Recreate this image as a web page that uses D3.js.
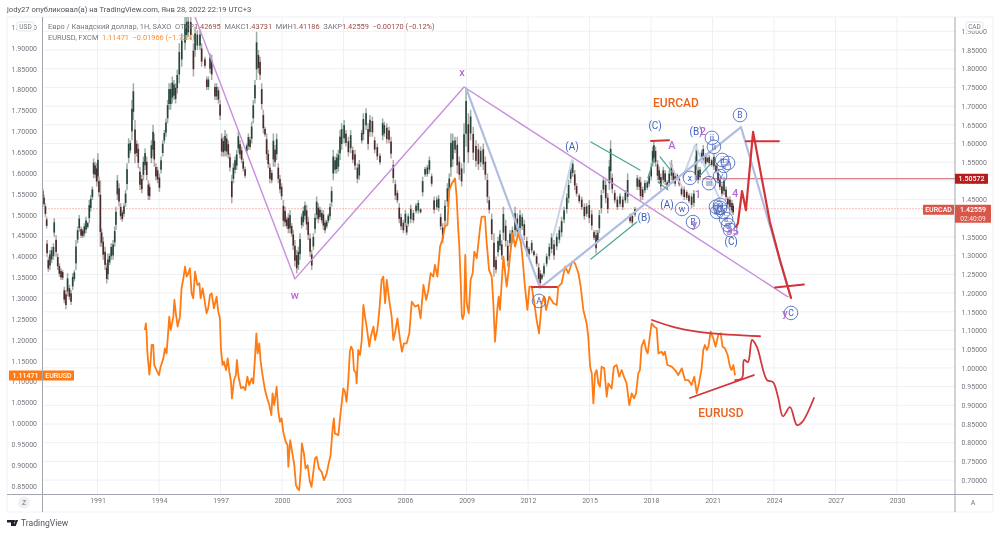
<!DOCTYPE html>
<html><head><meta charset="utf-8">
<script src="https://cdn.jsdelivr.net/npm/d3@7"></script>
<style>html,body{margin:0;padding:0;background:#fff;overflow:hidden}svg{display:block;filter:blur(0.3px)}text{font-family:Roboto,"Liberation Sans",sans-serif}</style>
</head><body><svg id="c" width="1000" height="534"></svg>
<script>
// [year, high, low]
const cadBars=[[1988.33,1.480,1.449],[1988.39,1.462,1.431],[1988.46,1.440,1.404],[1988.52,1.404,1.373],[1988.54,1.342,1.297],[1988.60,1.297,1.257],[1988.68,1.315,1.262],[1988.76,1.324,1.280],[1988.85,1.333,1.289],[1988.89,1.400,1.351],[1988.98,1.355,1.297],[1989.06,1.306,1.262],[1989.14,1.280,1.244],[1989.22,1.266,1.235],[1989.30,1.262,1.235],[1989.38,1.217,1.173],[1989.46,1.208,1.157],[1989.54,1.253,1.191],[1989.63,1.222,1.182],[1989.71,1.208,1.168],[1989.79,1.253,1.208],[1989.87,1.262,1.231],[1989.95,1.342,1.262],[1990.03,1.378,1.333],[1990.11,1.409,1.364],[1990.20,1.378,1.347],[1990.28,1.373,1.347],[1990.36,1.387,1.351],[1990.44,1.404,1.360],[1990.52,1.391,1.373],[1990.60,1.449,1.387],[1990.67,1.462,1.418],[1990.75,1.485,1.449],[1990.81,1.560,1.507],[1990.88,1.551,1.507],[1990.96,1.547,1.485],[1991.02,1.574,1.494],[1991.07,1.511,1.458],[1991.14,1.502,1.324],[1991.20,1.373,1.324],[1991.28,1.351,1.289],[1991.37,1.324,1.262],[1991.45,1.280,1.226],[1991.51,1.306,1.235],[1991.59,1.306,1.275],[1991.67,1.333,1.289],[1991.76,1.342,1.289],[1991.84,1.378,1.324],[1991.90,1.431,1.369],[1991.97,1.516,1.449],[1992.05,1.494,1.431],[1992.13,1.440,1.396],[1992.21,1.422,1.391],[1992.29,1.440,1.404],[1992.37,1.476,1.431],[1992.44,1.547,1.476],[1992.52,1.614,1.547],[1992.60,1.609,1.574],[1992.68,1.716,1.609],[1992.75,1.761,1.663],[1992.83,1.663,1.547],[1992.91,1.609,1.565],[1992.99,1.600,1.534],[1993.07,1.538,1.476],[1993.16,1.516,1.467],[1993.24,1.565,1.502],[1993.32,1.587,1.529],[1993.40,1.565,1.502],[1993.48,1.502,1.449],[1993.54,1.494,1.449],[1993.63,1.609,1.547],[1993.71,1.650,1.565],[1993.77,1.627,1.538],[1993.85,1.547,1.502],[1993.93,1.538,1.494],[1994.02,1.520,1.471],[1994.10,1.565,1.520],[1994.18,1.609,1.565],[1994.26,1.636,1.600],[1994.34,1.667,1.618],[1994.42,1.716,1.654],[1994.49,1.761,1.690],[1994.57,1.761,1.690],[1994.65,1.779,1.707],[1994.73,1.770,1.716],[1994.81,1.761,1.707],[1994.89,1.797,1.734],[1994.99,1.868,1.761],[1995.11,1.895,1.805],[1995.27,1.939,1.850],[1995.35,1.938,1.877],[1995.43,1.938,1.886],[1995.55,1.938,1.877],[1995.68,1.868,1.779],[1995.76,1.912,1.832],[1995.87,1.903,1.850],[1996.00,1.903,1.850],[1996.08,1.868,1.805],[1996.24,1.832,1.801],[1996.33,1.779,1.743],[1996.41,1.779,1.743],[1996.49,1.841,1.788],[1996.57,1.837,1.770],[1996.73,1.761,1.716],[1996.81,1.761,1.716],[1996.90,1.752,1.707],[1996.98,1.716,1.663],[1997.06,1.627,1.565],[1997.14,1.618,1.565],[1997.22,1.636,1.565],[1997.30,1.627,1.565],[1997.38,1.609,1.560],[1997.46,1.574,1.525],[1997.55,1.516,1.440],[1997.63,1.547,1.494],[1997.71,1.565,1.520],[1997.79,1.583,1.529],[1997.87,1.632,1.574],[1997.95,1.609,1.560],[1998.03,1.592,1.547],[1998.11,1.560,1.525],[1998.20,1.538,1.507],[1998.28,1.600,1.574],[1998.36,1.627,1.583],[1998.44,1.618,1.583],[1998.52,1.658,1.600],[1998.60,1.716,1.654],[1998.68,1.770,1.707],[1998.76,1.899,1.770],[1998.85,1.850,1.788],[1998.93,1.832,1.770],[1999.01,1.761,1.690],[1999.09,1.690,1.627],[1999.17,1.645,1.618],[1999.25,1.627,1.556],[1999.33,1.583,1.534],[1999.41,1.547,1.494],[1999.50,1.529,1.494],[1999.58,1.627,1.538],[1999.66,1.596,1.538],[1999.74,1.627,1.556],[1999.82,1.547,1.494],[1999.90,1.516,1.467],[1999.98,1.494,1.449],[2000.07,1.449,1.378],[2000.15,1.431,1.378],[2000.23,1.404,1.373],[2000.31,1.413,1.360],[2000.39,1.422,1.360],[2000.47,1.387,1.351],[2000.55,1.369,1.315],[2000.63,1.342,1.271],[2000.72,1.315,1.253],[2000.80,1.324,1.262],[2000.88,1.360,1.289],[2000.96,1.413,1.373],[2001.04,1.431,1.378],[2001.12,1.445,1.396],[2001.20,1.436,1.369],[2001.28,1.404,1.342],[2001.37,1.360,1.297],[2001.45,1.315,1.262],[2001.53,1.360,1.315],[2001.61,1.413,1.360],[2001.69,1.458,1.396],[2001.77,1.440,1.387],[2001.85,1.431,1.396],[2001.94,1.422,1.387],[2002.02,1.422,1.369],[2002.10,1.396,1.360],[2002.18,1.396,1.373],[2002.26,1.413,1.387],[2002.34,1.440,1.396],[2002.42,1.485,1.431],[2002.50,1.583,1.502],[2002.59,1.565,1.520],[2002.67,1.574,1.520],[2002.75,1.583,1.525],[2002.83,1.636,1.556],[2002.91,1.654,1.583],[2003.03,1.663,1.600],[2003.12,1.636,1.592],[2003.24,1.618,1.565],[2003.35,1.636,1.574],[2003.45,1.592,1.547],[2003.56,1.583,1.529],[2003.68,1.547,1.494],[2003.77,1.556,1.503],[2003.89,1.636,1.600],[2003.97,1.681,1.609],[2004.10,1.694,1.636],[2004.20,1.654,1.583],[2004.29,1.676,1.618],[2004.41,1.672,1.618],[2004.52,1.618,1.574],[2004.65,1.600,1.556],[2004.78,1.574,1.543],[2004.91,1.667,1.609],[2004.99,1.658,1.618],[2005.11,1.654,1.600],[2005.22,1.645,1.600],[2005.32,1.618,1.560],[2005.43,1.556,1.494],[2005.53,1.503,1.449],[2005.63,1.476,1.440],[2005.72,1.440,1.387],[2005.81,1.413,1.369],[2005.92,1.396,1.360],[2006.02,1.422,1.378],[2006.08,1.387,1.355],[2006.16,1.413,1.378],[2006.28,1.436,1.387],[2006.41,1.422,1.387],[2006.54,1.440,1.413],[2006.65,1.449,1.413],[2006.76,1.427,1.413],[2006.86,1.511,1.458],[2006.98,1.538,1.511],[2007.09,1.543,1.511],[2007.19,1.565,1.520],[2007.30,1.520,1.485],[2007.42,1.458,1.413],[2007.55,1.458,1.422],[2007.64,1.462,1.418],[2007.74,1.413,1.369],[2007.84,1.387,1.333],[2007.95,1.449,1.378],[2008.07,1.494,1.431],[2008.16,1.520,1.458],[2008.24,1.627,1.511],[2008.33,1.627,1.538],[2008.44,1.618,1.574],[2008.55,1.618,1.520],[2008.65,1.565,1.503],[2008.76,1.547,1.485],[2008.88,1.654,1.520],[2008.98,1.748,1.592],[2009.09,1.681,1.547],[2009.20,1.690,1.609],[2009.33,1.645,1.556],[2009.46,1.609,1.538],[2009.58,1.600,1.529],[2009.69,1.592,1.538],[2009.82,1.600,1.529],[2009.92,1.565,1.503],[2010.02,1.520,1.440],[2010.11,1.458,1.413],[2010.23,1.413,1.342],[2010.34,1.360,1.244],[2010.44,1.298,1.253],[2010.54,1.351,1.298],[2010.63,1.369,1.315],[2010.72,1.342,1.289],[2010.80,1.431,1.342],[2010.91,1.396,1.324],[2011.01,1.342,1.271],[2011.12,1.369,1.324],[2011.24,1.378,1.333],[2011.37,1.431,1.351],[2011.48,1.413,1.351],[2011.61,1.422,1.360],[2011.72,1.413,1.369],[2011.82,1.396,1.342],[2011.94,1.351,1.298],[2012.05,1.324,1.298],[2012.18,1.342,1.306],[2012.29,1.315,1.298],[2012.42,1.306,1.271],[2012.52,1.280,1.226],[2012.60,1.262,1.217],[2012.68,1.253,1.235],[2012.78,1.280,1.244],[2012.91,1.306,1.271],[2013.04,1.333,1.289],[2013.15,1.360,1.306],[2013.27,1.342,1.289],[2013.40,1.360,1.315],[2013.53,1.378,1.333],[2013.64,1.404,1.351],[2013.76,1.431,1.387],[2013.89,1.467,1.413],[2013.98,1.503,1.440],[2014.08,1.547,1.494],[2014.18,1.556,1.511],[2014.28,1.529,1.476],[2014.37,1.494,1.458],[2014.50,1.467,1.440],[2014.62,1.458,1.422],[2014.75,1.440,1.396],[2014.86,1.440,1.404],[2014.99,1.449,1.387],[2015.11,1.422,1.369],[2015.22,1.369,1.342],[2015.32,1.369,1.306],[2015.40,1.369,1.333],[2015.48,1.422,1.360],[2015.58,1.476,1.413],[2015.68,1.511,1.467],[2015.79,1.503,1.440],[2015.89,1.467,1.413],[2015.97,1.556,1.476],[2016.03,1.609,1.503],[2016.11,1.520,1.467],[2016.23,1.476,1.440],[2016.36,1.458,1.422],[2016.49,1.467,1.431],[2016.62,1.458,1.422],[2016.75,1.476,1.440],[2016.86,1.520,1.440],[2016.98,1.413,1.387],[2017.09,1.413,1.382],[2017.22,1.431,1.404],[2017.33,1.516,1.476],[2017.43,1.511,1.476],[2017.49,1.511,1.445],[2017.59,1.485,1.449],[2017.70,1.502,1.467],[2017.82,1.502,1.476],[2017.91,1.520,1.485],[2018.01,1.547,1.502],[2018.08,1.592,1.538],[2018.14,1.609,1.547],[2018.22,1.592,1.538],[2018.32,1.556,1.502],[2018.40,1.538,1.493],[2018.48,1.520,1.476],[2018.60,1.538,1.493],[2018.69,1.529,1.489],[2018.79,1.502,1.476],[2018.89,1.529,1.485],[2019.00,1.556,1.502],[2019.09,1.529,1.493],[2019.18,1.520,1.485],[2019.28,1.520,1.502],[2019.38,1.511,1.485],[2019.49,1.485,1.458],[2019.62,1.485,1.449],[2019.74,1.476,1.449],[2019.85,1.467,1.440],[2019.98,1.467,1.427],[2020.09,1.476,1.431],[2020.17,1.565,1.502],[2020.22,1.600,1.529],[2020.30,1.538,1.493],[2020.39,1.538,1.502],[2020.47,1.583,1.547],[2020.55,1.596,1.547],[2020.66,1.574,1.538],[2020.75,1.565,1.547],[2020.84,1.569,1.542],[2020.96,1.560,1.538],[2021.07,1.574,1.529],[2021.17,1.547,1.520],[2021.27,1.529,1.493],[2021.36,1.511,1.476],[2021.46,1.493,1.458],[2021.56,1.511,1.462],[2021.66,1.485,1.449],[2021.75,1.458,1.431],[2021.85,1.458,1.422],[2021.95,1.449,1.413],[2022.01,1.440,1.409]];
// [year, close]
const usdLine=[[1993.31,1.224],[1993.36,1.240],[1993.40,1.212],[1993.43,1.172],[1993.48,1.144],[1993.53,1.117],[1993.59,1.148],[1993.64,1.188],[1993.72,1.188],[1993.77,1.140],[1993.88,1.128],[1994.00,1.116],[1994.08,1.136],[1994.21,1.156],[1994.29,1.180],[1994.37,1.168],[1994.45,1.220],[1994.50,1.256],[1994.57,1.224],[1994.70,1.256],[1994.75,1.296],[1994.83,1.260],[1994.91,1.232],[1995.02,1.256],[1995.10,1.324],[1995.19,1.348],[1995.27,1.376],[1995.35,1.352],[1995.43,1.360],[1995.51,1.372],[1995.59,1.312],[1995.67,1.300],[1995.76,1.364],[1995.87,1.332],[1995.97,1.336],[1996.03,1.300],[1996.13,1.324],[1996.21,1.300],[1996.32,1.264],[1996.40,1.276],[1996.49,1.308],[1996.57,1.312],[1996.68,1.276],[1996.81,1.304],[1996.89,1.268],[1996.97,1.252],[1997.02,1.180],[1997.10,1.140],[1997.17,1.148],[1997.27,1.128],[1997.35,1.156],[1997.43,1.124],[1997.51,1.100],[1997.56,1.060],[1997.66,1.104],[1997.75,1.116],[1997.80,1.152],[1997.88,1.112],[1998.00,1.084],[1998.11,1.088],[1998.21,1.080],[1998.31,1.112],[1998.40,1.092],[1998.52,1.108],[1998.60,1.096],[1998.68,1.156],[1998.75,1.216],[1998.81,1.168],[1998.89,1.192],[1998.96,1.148],[1999.05,1.116],[1999.17,1.080],[1999.28,1.060],[1999.38,1.044],[1999.48,1.020],[1999.54,1.072],[1999.62,1.044],[1999.74,1.088],[1999.82,1.028],[1999.90,1.004],[1999.98,1.012],[2000.06,0.980],[2000.18,0.956],[2000.27,0.948],[2000.31,0.896],[2000.40,0.960],[2000.52,0.924],[2000.60,0.900],[2000.68,0.852],[2000.76,0.844],[2000.84,0.840],[2000.91,0.884],[2000.97,0.952],[2001.07,0.928],[2001.15,0.892],[2001.25,0.900],[2001.36,0.860],[2001.44,0.848],[2001.53,0.884],[2001.61,0.916],[2001.69,0.920],[2001.80,0.892],[2001.93,0.884],[2002.05,0.864],[2002.18,0.880],[2002.26,0.900],[2002.37,0.924],[2002.47,0.988],[2002.53,1.012],[2002.58,0.976],[2002.75,0.972],[2002.83,1.012],[2002.99,1.084],[2003.07,1.076],[2003.15,1.052],[2003.23,1.100],[2003.31,1.172],[2003.37,1.184],[2003.45,1.176],[2003.51,1.128],[2003.61,1.120],[2003.64,1.096],[2003.72,1.176],[2003.81,1.164],[2003.89,1.200],[2003.97,1.284],[2004.05,1.256],[2004.13,1.232],[2004.26,1.184],[2004.33,1.208],[2004.46,1.232],[2004.54,1.200],[2004.65,1.224],[2004.75,1.272],[2004.86,1.344],[2004.94,1.352],[2005.03,1.288],[2005.11,1.344],[2005.24,1.292],[2005.35,1.256],[2005.43,1.200],[2005.51,1.216],[2005.63,1.252],[2005.76,1.200],[2005.85,1.172],[2005.95,1.192],[2006.08,1.192],[2006.21,1.216],[2006.33,1.292],[2006.49,1.280],[2006.65,1.284],[2006.76,1.252],[2006.90,1.332],[2007.03,1.296],[2007.14,1.320],[2007.25,1.360],[2007.38,1.352],[2007.46,1.380],[2007.58,1.352],[2007.71,1.424],[2007.82,1.440],[2007.95,1.472],[2008.07,1.476],[2008.16,1.559],[2008.28,1.575],[2008.44,1.587],[2008.52,1.543],[2008.60,1.464],[2008.65,1.424],[2008.72,1.336],[2008.77,1.260],[2008.81,1.250],[2008.88,1.262],[2008.94,1.404],[2009.01,1.288],[2009.11,1.264],[2009.20,1.344],[2009.30,1.360],[2009.38,1.412],[2009.50,1.396],[2009.66,1.468],[2009.74,1.496],[2009.90,1.496],[2009.98,1.436],[2010.10,1.368],[2010.23,1.352],[2010.31,1.288],[2010.39,1.196],[2010.50,1.272],[2010.57,1.304],[2010.63,1.272],[2010.80,1.400],[2010.96,1.328],[2011.04,1.360],[2011.12,1.400],[2011.25,1.456],[2011.37,1.424],[2011.53,1.456],[2011.66,1.432],[2011.74,1.392],[2011.85,1.328],[2011.97,1.272],[2012.07,1.328],[2012.18,1.328],[2012.31,1.288],[2012.42,1.248],[2012.54,1.216],[2012.67,1.288],[2012.78,1.304],[2012.88,1.272],[2013.04,1.304],[2013.24,1.288],[2013.40,1.284],[2013.48,1.328],[2013.64,1.336],[2013.81,1.376],[2013.97,1.360],[2014.16,1.388],[2014.29,1.384],[2014.46,1.360],[2014.57,1.328],[2014.70,1.272],[2014.86,1.240],[2014.94,1.208],[2015.03,1.136],[2015.11,1.120],[2015.19,1.048],[2015.27,1.120],[2015.35,1.128],[2015.43,1.096],[2015.51,1.088],[2015.59,1.136],[2015.72,1.132],[2015.84,1.064],[2015.92,1.096],[2016.08,1.084],[2016.19,1.136],[2016.32,1.140],[2016.45,1.112],[2016.57,1.128],[2016.68,1.112],[2016.81,1.096],[2016.94,1.044],[2017.06,1.072],[2017.17,1.060],[2017.27,1.072],[2017.38,1.120],[2017.46,1.128],[2017.54,1.184],[2017.66,1.200],[2017.76,1.176],[2017.84,1.168],[2017.92,1.200],[2018.03,1.240],[2018.16,1.232],[2018.28,1.228],[2018.36,1.168],[2018.52,1.172],[2018.60,1.164],[2018.68,1.172],[2018.80,1.140],[2019.01,1.136],[2019.17,1.128],[2019.33,1.116],[2019.50,1.132],[2019.66,1.104],[2019.82,1.104],[2019.98,1.092],[2020.11,1.112],[2020.23,1.072],[2020.34,1.096],[2020.47,1.132],[2020.55,1.176],[2020.63,1.188],[2020.72,1.176],[2020.80,1.184],[2020.91,1.220],[2021.04,1.204],[2021.15,1.184],[2021.28,1.212],[2021.40,1.216],[2021.49,1.184],[2021.61,1.180],[2021.74,1.164],[2021.85,1.136],[2021.93,1.128],[2022.02,1.140],[2022.10,1.115]];

const yearTicks=[1991,1994,1997,2000,2003,2006,2009,2012,2015,2018,2021,2024,2027,2030];
const usdTicks=[0.85,0.90,0.95,1.00,1.05,1.10,1.15,1.20,1.25,1.30,1.35,1.40,1.45,1.50,1.55,1.60,1.65,1.70,1.75,1.80,1.85,1.90,1.95];
const cadTicks=[0.70,0.75,0.80,0.85,0.90,0.95,1.00,1.05,1.10,1.15,1.20,1.25,1.30,1.35,1.40,1.45,1.50,1.55,1.60,1.65,1.70,1.75,1.80,1.85,1.90];

// drawings on the CAD scale
const purpleZig=[[1995.76,1.938],[2000.63,1.238],[2008.88,1.751],[2024.68,1.190]];
const blueZig=[[2008.98,1.748],[2012.59,1.214],[2022.39,1.644],[2024.83,1.187]];
const paleBlue=[[[2013.22,1.350],[2014.15,1.556]],[[2019.56,1.510],[2020.15,1.596],[2021.37,1.449]]];
const palePurple=[[[2018.9,1.550],[2019.55,1.480]]];
const tealLines=[[[2015.07,1.291],[2017.31,1.390]],[[2015.07,1.604],[2017.46,1.529]],[[2018.44,1.564],[2019.02,1.524]],[[2018.34,1.497],[2018.83,1.476]],[[2017.85,1.508],[2018.15,1.561]],[[2020.4,1.515],[2020.9,1.545]]];
const redCad=[[[2012.19,1.216],[2013.41,1.216]],[[2018.0,1.607],[2018.88,1.609]],[[2022.63,1.606],[2024.24,1.606]],[[2024.05,1.215],[2025.46,1.223]]];
const redForecast=[[2022.15,1.377],[2022.24,1.387],[2022.44,1.473],[2022.63,1.422],[2022.98,1.631],[2023.8,1.390],[2024.29,1.288],[2024.83,1.187]];
// drawings on the USD scale
const usdTop=[[2018.05,1.248],[2019.27,1.229],[2020.73,1.217],[2023.32,1.209]];
const usdBottom=[[2019.90,1.061],[2023.02,1.116]];
const usdForecast=[[2022.10,1.104],[2022.44,1.109],[2022.54,1.152],[2022.73,1.147],[2022.93,1.200],[2023.17,1.183],[2023.66,1.104],[2023.95,1.099],[2024.20,1.063],[2024.44,1.017],[2024.78,1.039],[2025.12,0.996],[2025.37,1.003],[2025.95,1.061]];
const parenLabels=[["(A)",2014.15,1.591],["(C)",2018.20,1.647],["(B)",2017.66,1.403],["(A)",2018.78,1.436],["(B)",2020.20,1.633],["(C)",2021.91,1.337]];
const circleLabels=[["A",2012.54,1.179],["B",2022.34,1.676],["C",2024.83,1.147],["w",2019.51,1.425],["x",2019.90,1.508],["ii",2020.97,1.615],["ii",2021.07,1.591],["ii",2021.47,1.556],["ii",2021.76,1.548],["ii",2021.56,1.540],["iii",2020.83,1.494],["iv",2021.37,1.513],["ii",2021.17,1.431],["iv",2021.37,1.436],["ii",2021.52,1.417],["iii",2021.22,1.417],["iv",2021.37,1.428],["ii",2021.66,1.398],["iii",2021.76,1.382],["ii",2021.86,1.369],["B",2020.05,1.390]];
const purpleLabels=[["x",2008.78,1.791],["w",2000.63,1.195],["A",2019.02,1.596],["2",2020.53,1.633],["1",2020.29,1.465],["4",2022.1,1.468],["y",2020.12,1.385],["35",2021.98,1.366],["y",2024.54,1.147]];
const orangeLabels=[["EURCAD",2019.22,1.708],["EURUSD",2021.41,0.879]];
const lastCad=1.42559, levelCad=1.50572, lastUsd=1.11471;

const svg=d3.select("#c");
const L=42.5,R=955,T=17,B=494.5;
const x=d3.scaleLinear().domain([1991,2030]).range([97.5,897]);
const yU=d3.scaleLinear().domain([0.85,1.90]).range([486,48]);
const yC=d3.scaleLinear().domain([0.70,1.85]).range([480.1,50]);
const fmt=d=>d.toFixed(5);

svg.append("rect").attr("x",7).attr("y",17).attr("width",986).attr("height",495).attr("fill","#fff").attr("stroke","#f0f2f7").attr("stroke-width",1);
svg.append("defs").append("clipPath").attr("id","pl").append("rect").attr("x",L).attr("y",T).attr("width",R-L).attr("height",B-T);

svg.append("text").attr("x",7).attr("y",12).attr("font-size",7.6).attr("fill","#50535e").text("jody27 опубликовал(а) на TradingView.com, Янв 28, 2022 22:19 UTC+3");

// grid
const grid=svg.append("g").attr("stroke","#eff0f3").attr("stroke-width",1);
grid.selectAll("line.v").data(yearTicks).join("line").attr("x1",d=>x(d)).attr("x2",d=>x(d)).attr("y1",T).attr("y2",B);
grid.selectAll("line.h").data(cadTicks).join("line").attr("x1",L).attr("x2",R).attr("y1",d=>yC(d)).attr("y2",d=>yC(d));

const plot=svg.append("g").attr("clip-path","url(#pl)");
plot.append("line").attr("x1",L).attr("x2",R).attr("y1",yC(lastCad)).attr("y2",yC(lastCad)).attr("stroke","#e57b70").attr("stroke-dasharray","1 2").attr("stroke-width",1);
plot.append("line").attr("x1",x(2020.5)).attr("x2",R).attr("y1",yC(levelCad)).attr("y2",yC(levelCad)).attr("stroke","#c95b5f").attr("stroke-width",1);

// candles
const mid=d=>(d[1]+d[2])/2;
const up=(d,i)=> i===0 || mid(d)>=mid(cadBars[i-1]);
plot.selectAll("line.w").data(cadBars).join("line").attr("x1",d=>x(d[0])).attr("x2",d=>x(d[0])).attr("y1",d=>yC(d[1])).attr("y2",d=>yC(d[2])).attr("stroke",(d,i)=>up(d,i)?"#9aaea5":"#b5a6a6").attr("stroke-width",1.5);
plot.selectAll("rect.b").data(cadBars).join("rect").attr("x",d=>x(d[0])-0.8).attr("width",1.6)
 .attr("y",d=>yC(d[2]+(d[1]-d[2])*0.78)).attr("height",d=>yC(d[2]+(d[1]-d[2])*0.22)-yC(d[2]+(d[1]-d[2])*0.78))
 .attr("fill",(d,i)=>up(d,i)?"#26443a":"#472a2a");

// orange line
const lineC=d3.line().x(d=>x(d[0])).y(d=>yC(d[1]));
const lineU=d3.line().x(d=>x(d[0])).y(d=>yU(d[1]));
plot.append("path").attr("d",lineU(usdLine)).attr("fill","none").attr("stroke","#ff7c14").attr("stroke-width",1.8).attr("stroke-linejoin","round");

// drawings
const draw=(g,p,col,w,op)=>g.append("path").attr("d",p).attr("fill","none").attr("stroke",col).attr("stroke-width",w).attr("opacity",op||1).attr("stroke-linecap","round").attr("stroke-linejoin","round");
draw(plot,lineC(purpleZig),"#c78fdc",1.4);
palePurple.forEach(s=>draw(plot,lineC(s),"#dcb9e8",1.5));
paleBlue.forEach(s=>draw(plot,lineC(s),"#ccd4ec",2));
draw(plot,lineC(blueZig),"#b0bce0",2.2);
tealLines.forEach(s=>draw(plot,lineC(s),"#4aa596",1.2));
redCad.forEach(s=>draw(plot,lineC(s),"#d13438",2));
draw(plot,lineC(redForecast),"#d13438",2.2);
const lineS=d3.line().x(d=>x(d[0])).y(d=>yU(d[1])).curve(d3.curveCatmullRom.alpha(0.5));
draw(plot,lineS(usdTop),"#d2383c",1.8);
draw(plot,lineU(usdBottom),"#d2383c",1.8);
draw(plot,lineS(usdForecast),"#d2383c",1.8);

// labels
const blue="#3f5fbd";
plot.selectAll("circle.l").data(circleLabels).join("circle").attr("cx",d=>x(d[1])).attr("cy",d=>yC(d[2])).attr("r",6.8).attr("fill","none").attr("stroke",blue).attr("stroke-width",.9).attr("opacity",.9);
const lab=(arr,size,col,wt)=>plot.selectAll(null).data(arr).join("text").attr("x",d=>x(d[1])).attr("y",d=>yC(d[2])).attr("dy","0.35em").attr("text-anchor","middle").attr("font-size",size).attr("font-weight",wt||400).attr("fill",col).text(d=>d[0]);
lab(circleLabels,8.5,blue);
lab(parenLabels,10,blue);
lab(purpleLabels,11,"#b66bcf",500);
lab(orangeLabels,12,"#e8641e",500);

// axes frame
const axC="#a3a6af";
svg.append("line").attr("x1",L).attr("x2",L).attr("y1",T).attr("y2",512).attr("stroke",axC);
svg.append("line").attr("x1",R).attr("x2",R).attr("y1",T).attr("y2",512).attr("stroke",axC);
svg.append("line").attr("x1",7).attr("x2",993).attr("y1",B).attr("y2",B).attr("stroke",axC);

const styleAxis=g=>{g.select(".domain").remove();g.selectAll(".tick line").remove();g.selectAll("text").attr("font-size",7).attr("fill","#74777f").style("font-family","Roboto,'Liberation Sans',sans-serif");};
svg.append("g").attr("transform",`translate(${L},0)`).call(d3.axisLeft(yU).tickValues(usdTicks).tickFormat(fmt).tickSize(0).tickPadding(5.5)).call(styleAxis);
svg.append("g").attr("transform",`translate(${R},0)`).call(d3.axisRight(yC).tickValues(cadTicks).tickFormat(fmt).tickSize(0).tickPadding(6.5)).call(styleAxis);
svg.append("g").attr("transform",`translate(0,${B})`).call(d3.axisBottom(x).tickValues(yearTicks).tickFormat(d3.format("d")).tickSize(0).tickPadding(4)).call(styleAxis);

// header
const hdr=svg.append("g").attr("font-size",7.4);
const t1=hdr.append("text").attr("x",48).attr("y",29).style("white-space","pre");
[["Евро / Канадский доллар, 1H, SAXO  ","#74777f"],["ОТКР","#74777f"],["1.42695  ","#9c4a4a"],["МАКС","#74777f"],["1.43731  ","#9c4a4a"],["МИН","#74777f"],["1.41186  ","#9c4a4a"],["ЗАКР","#74777f"],["1.42559  ","#9c4a4a"],["−0.00170 (−0.12%)","#9c4a4a"]].forEach(s=>t1.append("tspan").attr("fill",s[1]).style("white-space","pre").text(s[0]));
const t2=hdr.append("text").attr("x",48).attr("y",40).style("white-space","pre");
t2.append("tspan").attr("fill","#74777f").text("EURUSD, FXCM  ");
t2.append("tspan").attr("fill","#ff8a2b").text("1.11471  −0.01966 (−1.73%)");

// badges
const badge=(bx,t)=>{svg.append("rect").attr("x",bx).attr("y",22).attr("width",17).attr("height",9).attr("rx",2).attr("fill","#fff").attr("stroke","#d6d8de").attr("stroke-width",.7);
 svg.append("text").attr("x",bx+8.5).attr("y",29).attr("text-anchor","middle").attr("font-size",6.5).attr("fill","#74777f").text(t);};
badge(17,"USD");badge(966,"CAD");

// price tags
const tag=(tx,ty,w,h,col,lines)=>{svg.append("rect").attr("x",tx).attr("y",ty).attr("width",w).attr("height",h).attr("fill",col).attr("rx",.5);
 lines.forEach((s,i)=>svg.append("text").attr("x",tx+w/2).attr("y",ty+7.2+i*9).attr("text-anchor","middle").attr("font-size",i?6.6:7).attr("font-weight",i?400:500).attr("fill",i?"#ffe5e0":"#fff").text(s));};
tag(9,yU(lastUsd)-5,33,10,"#ff7a12",[lastUsd.toFixed(5)]);
tag(43,yU(lastUsd)-5,31,10,"#ff7a12",["EURUSD"]);
tag(923,yC(lastCad)-4,31,10,"#d9564a",["EURCAD"]);
tag(955,yC(lastCad)-4,36,18,"#d9564a",[lastCad.toFixed(5),"02:40:09"]);
tag(955,yC(levelCad)-5,33,10,"#b71c1c",[levelCad.toFixed(5)]);

// corner buttons
svg.append("circle").attr("cx",24).attr("cy",502.5).attr("r",6).attr("fill","#eef0f4");
svg.append("text").attr("x",24).attr("y",505).attr("text-anchor","middle").attr("font-size",7).attr("fill","#6f727b").text("Z");
svg.append("text").attr("x",973).attr("y",505).attr("text-anchor","middle").attr("font-size",7).attr("fill","#74777f").text("A");

// logo
const lg=svg.append("g").attr("fill","#1e222d");
lg.append("path").attr("d","M7 520h7v6h-3v-3.5h-4zM15.5 520h2.6l-2.4 6h-2.2z");
lg.append("circle").attr("cx",14.2).attr("cy",521).attr("r",1);
svg.append("text").attr("x",21).attr("y",526).attr("font-size",8.6).attr("fill","#50535e").text("TradingView");
</script></body></html>
